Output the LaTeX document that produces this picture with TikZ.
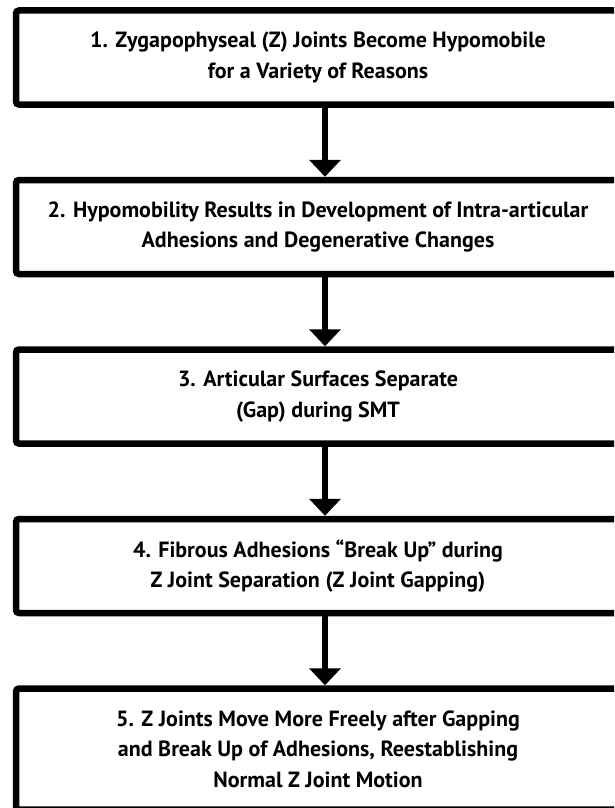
\documentclass[tikz,border=0pt]{standalone}
\usepackage{fontspec}
\setmainfont{PT Sans}
\usetikzlibrary{positioning,arrows.meta}

\begin{document}
\begin{tikzpicture}[node distance=69pt,
    stage/.style={draw, line width=6.5pt, rounded corners=3pt, minimum width=604pt,
      minimum height=94pt, align=center, font=\bfseries\fontsize{22}{30.5}\selectfont},
    flow/.style={line width=6.5pt, -{Triangle[width=31pt,length=17pt]}}]
    \useasboundingbox (0,0) rectangle (614pt,-808pt);
    \clip (0,0) rectangle (614pt,-808pt);
    \node (s1) [stage] at (318pt,-57.5pt) {1. Zygapophyseal (Z) Joints Become Hypomobile\\for a Variety of Reasons};
    \node (s2) [stage, below=of s1] {2. Hypomobility Results in Development of Intra-articular\\Adhesions and Degenerative Changes};
    \node (s3) [stage, below=of s2] {3. Articular Surfaces Separate\\(Gap) during SMT};
    \node (s4) [stage, below=of s3] {4. Fibrous Adhesions “Break Up” during\\Z Joint Separation (Z Joint Gapping)};
    \node (s5) [stage, below=of s4, minimum height=121pt] {5. Z Joints Move More Freely after Gapping\\and Break Up of Adhesions, Reestablishing\\Normal Z Joint Motion};
    \draw[flow] ([xshift=7pt]s1.south) -- ([xshift=7pt]s2.north);
    \draw[flow] ([xshift=7pt]s2.south) -- ([xshift=7pt]s3.north);
    \draw[flow] ([xshift=7pt]s3.south) -- ([xshift=7pt]s4.north);
    \draw[flow] ([xshift=7pt]s4.south) -- ([xshift=7pt]s5.north);
\end{tikzpicture}
\end{document}
